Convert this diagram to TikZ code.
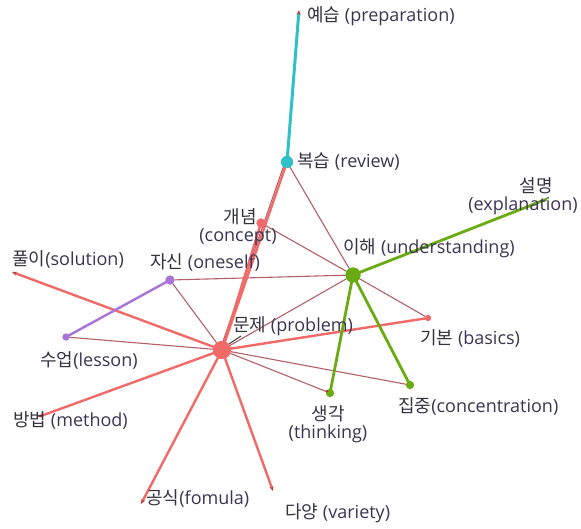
\documentclass[tikz,border=0pt]{standalone}
\usepackage{fontspec}
\setmainfont{Open Sans}
\newfontfamily\kr{Noto Sans CJK KR}
\usetikzlibrary{arrows.meta}
\definecolor{edgered}{HTML}{F26A68}
\definecolor{edgebrown}{HTML}{B2606A}
\definecolor{leafred}{HTML}{C03A3A}
\definecolor{green1}{HTML}{6AAA12}
\definecolor{cyan1}{HTML}{2EC2C6}
\definecolor{purple1}{HTML}{A874D8}
\definecolor{txt}{HTML}{34343F}
\definecolor{txtlat}{HTML}{3C3552}
\newcommand{\ko}[1]{{\kr\color{txt}#1}}
\tikzset{
  dot/.style={circle,inner sep=0pt,minimum size=#1},
  lbl/.style={text=txtlat,font=\fontsize{18}{20}\selectfont,inner sep=0pt},
  strong/.style={edgered,line width=2.4pt},
  weak/.style={edgebrown,line width=1.1pt},
  grn/.style={green1,line width=2.8pt},
  cyn/.style={cyan1,line width=3pt},
  prp/.style={purple1,line width=2.4pt},
  leaf/.style={-{Stealth[length=5pt,width=4pt,color=leafred]}},
}
\begin{document}
\begin{tikzpicture}[x=1pt,y=-1pt]
\useasboundingbox (0,0) rectangle (581,528);
\fill[white] (0,0) rectangle (581,528);

% concept nodes
\coordinate (prep) at (299,10);
\node[dot=12pt,fill=cyan1] (review) at (287,162) {};
\node[dot=9pt,fill=edgered] (concept) at (261,223) {};
\node[dot=9pt,fill=purple1] (oneself) at (170,280) {};
\node[dot=15pt,fill=green1] (underst) at (353,275) {};
\coordinate (explan) at (547,199);
\coordinate (solution) at (12,272);
\node[dot=7pt,fill=purple1] (lesson) at (66,337) {};
\node[dot=18pt,fill=edgered] (problem) at (222,350) {};
\node[dot=6pt,fill=edgered] (basics) at (428,318) {};
\node[dot=8pt,fill=green1] (thinking) at (330,393) {};
\node[dot=8pt,fill=green1] (concen) at (410,385) {};
\coordinate (method) at (38,417);
\coordinate (formula) at (141,504);
\coordinate (variety) at (273,491);

% weak links
\draw[weak] (review) -- (underst);
\draw[weak] ([xshift=-2pt]review.center) -- ([xshift=-2pt]problem.center);
\draw[weak] (concept) -- (underst);
\draw[weak] (oneself) -- (underst);
\draw[weak] (oneself) -- (problem);
\draw[weak] (lesson) -- (problem);
\draw[weak] (underst) -- (basics);
\draw[weak] (problem) -- (concen);
\draw[weak] (problem) -- (thinking);
\draw[weak] (underst) -- (problem);
\draw[black!75,line width=1pt] (problem.center) ++(7,-6) -- ++(12,-8);

% strong links from the problem node
\draw[strong] (problem.center) -- (review.center);
\draw[strong] (problem.center) -- (concept.center);
\draw[strong] (problem.center) -- (basics.center);
\draw[strong,leaf] (problem.center) -- (solution);
\draw[strong,leaf] (problem.center) -- (method);
\draw[strong,leaf] (problem.center) -- (formula);
\draw[strong,leaf] (problem.center) -- (variety);

% coloured clusters
\draw[cyn,leaf] (review.center) -- (prep);
\draw[prp] (oneself.center) -- (lesson.center);
\draw[grn] (underst.center) -- (explan);
\draw[grn] (underst.center) -- (thinking.center);
\draw[grn] (underst.center) -- (concen.center);

% node discs on top of the links
\fill[cyan1] (review) circle (6pt);
\fill[edgered] (concept) circle (4.5pt);
\fill[purple1] (oneself) circle (4.5pt);
\fill[green1] (underst) circle (7.5pt);
\fill[purple1] (lesson) circle (3.5pt);
\fill[edgered] (problem) circle (9pt);
\fill[edgered] (basics) circle (3pt);
\fill[green1] (thinking) circle (4pt);
\fill[leafred] (thinking) ++(-3,-2) circle (1.5pt);
\fill[green1] (concen) circle (4pt);

% labels
\node[lbl,anchor=west] (l-prep) at (307,16) {\ko{예습} (preparation)};
\node[lbl,anchor=west] (l-review) at (297,162) {\ko{복습} (review)};
\node[lbl,align=center] (l-concept) at (238,227) {\hspace*{4pt}\ko{개념}\\[-2pt](concept)};
\node[lbl,anchor=west] (l-oneself) at (150,262) {\ko{자신} (oneself)};
\node[lbl,anchor=west] (l-underst) at (343,248) {\ko{이해} (understanding)};
\node[lbl,align=center] (l-explan) at (523,196) {\hspace*{26pt}\ko{설명}\\[-2pt](explanation)};
\node[lbl,anchor=west] (l-solution) at (12,259) {\ko{풀이}(solution)};
\node[lbl,anchor=west] (l-lesson) at (40,360) {\ko{수업}(lesson)};
\node[lbl,anchor=west] (l-problem) at (233,326) {\ko{문제} (problem)};
\node[lbl,anchor=west] (l-basics) at (420,338) {\ko{기본} (basics)};
\node[lbl,align=center] (l-thinking) at (328,424) {\ko{생각}\\[-2pt](thinking)};
\node[lbl,anchor=west] (l-concen) at (398,406) {\ko{집중}(concentration)};
\node[lbl,anchor=west] (l-method) at (13,420) {\ko{방법} (method)};
\node[lbl,anchor=west] (l-formula) at (146,498) {\ko{공식}(fomula)};
\node[lbl,anchor=west] (l-variety) at (285,513) {\ko{다양} (variety)};
\end{tikzpicture}
\end{document}
